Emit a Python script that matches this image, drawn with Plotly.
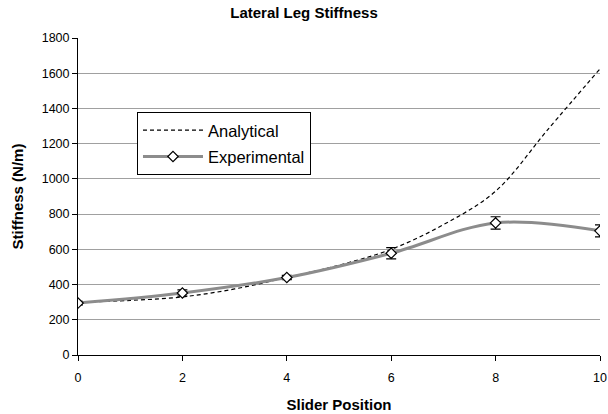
import plotly.graph_objects as go

# Data
x_analytical = [0, 1, 2, 3, 4, 5, 6, 7, 8, 9, 10]
y_analytical = [300, 310, 330, 375, 440, 510, 600, 740, 930, 1280, 1625]

x_experimental = [0, 2, 4, 6, 8, 10]
y_experimental = [295, 352, 440, 578, 750, 705]
err_experimental = [10, 18, 12, 32, 35, 34]

x_ticks = [0, 2, 4, 6, 8, 10]
y_ticks = [0, 200, 400, 600, 800, 1000, 1200, 1400, 1600, 1800]

FONT = "Arial, Liberation Sans, sans-serif"

fig = go.Figure()

fig.add_trace(go.Scatter(
    x=x_analytical, y=y_analytical, name="Analytical", legendgroup="a",
    mode="lines", line=dict(color="black", width=1.2, dash="4px,3px", shape="spline", smoothing=1.0),
))

fig.add_trace(go.Scatter(
    x=x_experimental, y=y_experimental, name="Experimental", legendgroup="b",
    mode="lines+markers",
    line=dict(color="#8c8c8c", width=3, shape="spline", smoothing=1.0),
    marker=dict(symbol="diamond", size=8, color="white", line=dict(color="black", width=1.2)),
    error_y=dict(type="data", array=err_experimental, visible=True, color="black", thickness=1.2, width=5),
))

fig.update_layout(
    width=608, height=414,
    margin=dict(l=78, r=8, t=38, b=59),
    paper_bgcolor="white", plot_bgcolor="white",
    font=dict(family=FONT, size=12, color="black"),
    title=dict(text="<b>Lateral Leg Stiffness</b>", x=0.5, xanchor="center", y=0.968, yanchor="middle",
               font=dict(family=FONT, size=15, color="black")),
    showlegend=True,
    legend=dict(x=0.113, y=0.767, xanchor="left", yanchor="top",
                bordercolor="black", borderwidth=1, bgcolor="white",
                font=dict(family=FONT, size=16.5, color="black"),
                itemwidth=60, tracegroupgap=2),
    xaxis=dict(range=[0, 10], tickvals=x_ticks, ticks="outside", ticklen=5, tickcolor="black",
               showline=True, linecolor="black", linewidth=1, showgrid=False, zeroline=False,
               automargin=False, ticklabeloverflow="allow", ticklabelstandoff=6,
               title=dict(text="<b>Slider Position</b>", font=dict(family=FONT, size=15), standoff=15),
               tickfont=dict(family=FONT, size=12.5)),
    yaxis=dict(range=[0, 1800], tickvals=y_ticks, ticks="outside", ticklen=5, tickcolor="black",
               showline=True, linecolor="black", linewidth=1, showgrid=True, gridcolor="#a0a0a0",
               gridwidth=1, zeroline=False, automargin=False,
               title=dict(text="<b>Stiffness (N/m)</b>", font=dict(family=FONT, size=15), standoff=14),
               tickfont=dict(family=FONT, size=12.5)),
)

fig.write_html(
    "out.html",
    config={"displayModeBar": False},
    post_script="document.body.style.margin='0';document.documentElement.style.overflow='hidden';",
)
